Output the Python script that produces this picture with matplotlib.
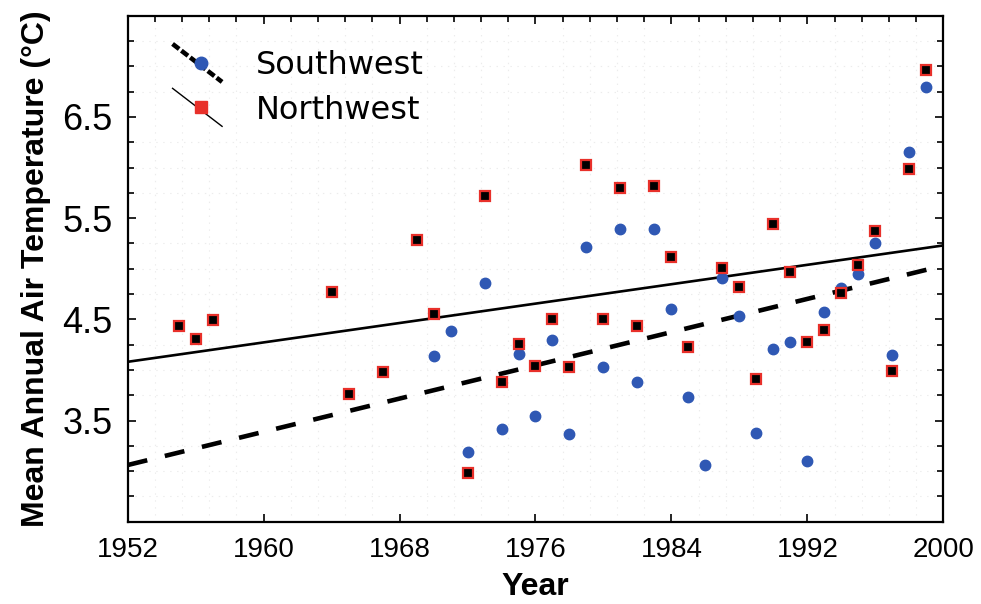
import matplotlib
matplotlib.use("Agg")
import matplotlib.pyplot as plt
from matplotlib.ticker import MultipleLocator, FixedLocator
from matplotlib.legend_handler import HandlerLine2D
from matplotlib.lines import Line2D

# ---- data ----
nw_years = [1955, 1956, 1957, 1964, 1965, 1967, 1969, 1970, 1972, 1973, 1974, 1975,
            1976, 1977, 1978, 1979, 1980, 1981, 1982, 1983, 1984, 1985, 1987, 1988,
            1989, 1990, 1991, 1992, 1993, 1994, 1995, 1996, 1997, 1998, 1999]
nw_temps = [4.43, 4.31, 4.49, 4.77, 3.76, 3.98, 5.28, 4.55, 2.98, 5.72, 3.88, 4.26,
            4.04, 4.50, 4.03, 6.02, 4.50, 5.80, 4.43, 5.82, 5.12, 4.23, 5.01, 4.82,
            3.91, 5.44, 4.97, 4.28, 4.39, 4.76, 5.04, 5.37, 3.99, 5.99, 6.96]

sw_years = [1970, 1971, 1972, 1973, 1974, 1975, 1976, 1977, 1978, 1979, 1980, 1981,
            1982, 1983, 1984, 1985, 1986, 1987, 1988, 1989, 1990, 1991, 1992, 1993,
            1994, 1995, 1996, 1997, 1998, 1999]
sw_temps = [4.14, 4.38, 3.19, 4.86, 3.42, 4.16, 3.54, 4.30, 3.37, 5.21, 4.03, 5.39,
            3.88, 5.39, 4.60, 3.73, 3.06, 4.91, 4.53, 3.38, 4.21, 4.28, 3.10, 4.57,
            4.81, 4.95, 5.25, 4.15, 6.15, 6.80]

trend_years = [1952, 2000]
nw_trend = [4.08, 5.23]
sw_trend = [3.06, 5.03]

x_ticks = [1952, 1960, 1968, 1976, 1984, 1992, 2000]
y_ticks = [3.5, 4.5, 5.5, 6.5]
labels = ["Southwest", "Northwest"]

# ---- style ----
plt.rcParams['font.family'] = ['Liberation Sans', 'DejaVu Sans']
plt.rcParams['lines.scale_dashes'] = False

SW_BLUE = '#2f58b4'
NW_RED = '#e8302a'

fig = plt.figure(figsize=(9.81, 6.04), dpi=100)
ax = fig.add_axes([127.7/981, 1-521.7/604, (943.3-127.7)/981, (521.7-15.7)/604])

ax.plot(trend_years, nw_trend, color='black', lw=1.9, solid_capstyle='butt', zorder=2)
ax.plot(trend_years, sw_trend, color='black', lw=3.3, dashes=(14.5, 13), zorder=2)

ax.plot(sw_years, sw_temps, linestyle='None', marker='o', ms=7.5,
        mfc=SW_BLUE, mec=SW_BLUE, zorder=3)
ax.plot(nw_years, nw_temps, linestyle='None', marker='s', ms=7.5,
        mfc='black', mec=NW_RED, mew=1.6, zorder=4)

ax.set_xlim(1952, 2000)
ax.set_ylim(2.5, 7.5)
ax.xaxis.set_major_locator(FixedLocator(x_ticks))
ax.xaxis.set_minor_locator(MultipleLocator(1.6))
ax.yaxis.set_major_locator(FixedLocator(y_ticks))
ax.yaxis.set_minor_locator(MultipleLocator(0.25))
ax.set_xticklabels([str(t) for t in x_ticks])
ax.set_yticklabels([str(t) for t in y_ticks])

ax.tick_params(which='both', direction='in', top=True, right=True, width=1.2, color='black')
ax.tick_params(which='major', length=6)
ax.tick_params(which='minor', length=4, bottom=False)
ax.tick_params(axis='x', labelsize=20, pad=11)
ax.tick_params(axis='y', labelsize=26, pad=11)
for s in ax.spines.values():
    s.set_linewidth(1.6)

ax.set_xlabel('Year', fontsize=23, fontweight='bold', labelpad=6.5)
ax.set_ylabel('Mean Annual Air Temperature (°C)', fontsize=23, fontweight='bold', labelpad=8)

# faint dotted grid like the reference background
ax.grid(True, which='minor', axis='both', color='#ececec', linestyle=(0, (1, 4)), lw=0.8, zorder=0)


class DiagHandler(HandlerLine2D):
    def create_artists(self, legend, orig_handle, xdescent, ydescent, width, height, fontsize, trans):
        x0 = -xdescent
        line = Line2D([x0, x0 + width], [height * 1.35 - ydescent, -height * 0.35 - ydescent])
        self.update_prop(line, orig_handle, legend)
        line.set_marker('None')
        line.set_transform(trans)
        mk = Line2D([x0 + width * 0.57], [height * 0.5 - ydescent])
        self.update_prop(mk, orig_handle, legend)
        mk.set_linestyle('None')
        mk.set_transform(trans)
        return [line, mk]


h_sw = Line2D([], [], color='black', lw=3.3, dashes=(6, 2), marker='o', ms=9,
              mfc=SW_BLUE, mec=SW_BLUE)
h_nw = Line2D([], [], color='black', lw=1.0, marker='s', ms=9,
              mfc=NW_RED, mec=NW_RED)
leg = ax.legend([h_sw, h_nw], labels, loc='upper left', bbox_to_anchor=(0.055, 0.932),
                frameon=False, handlelength=1.55, handletextpad=1.05,
                borderpad=0, borderaxespad=0, labelspacing=0.42,
                handler_map={Line2D: DiagHandler()}, prop={'family': 'DejaVu Sans', 'size': 23})

fig.savefig('out.png', dpi=100)
